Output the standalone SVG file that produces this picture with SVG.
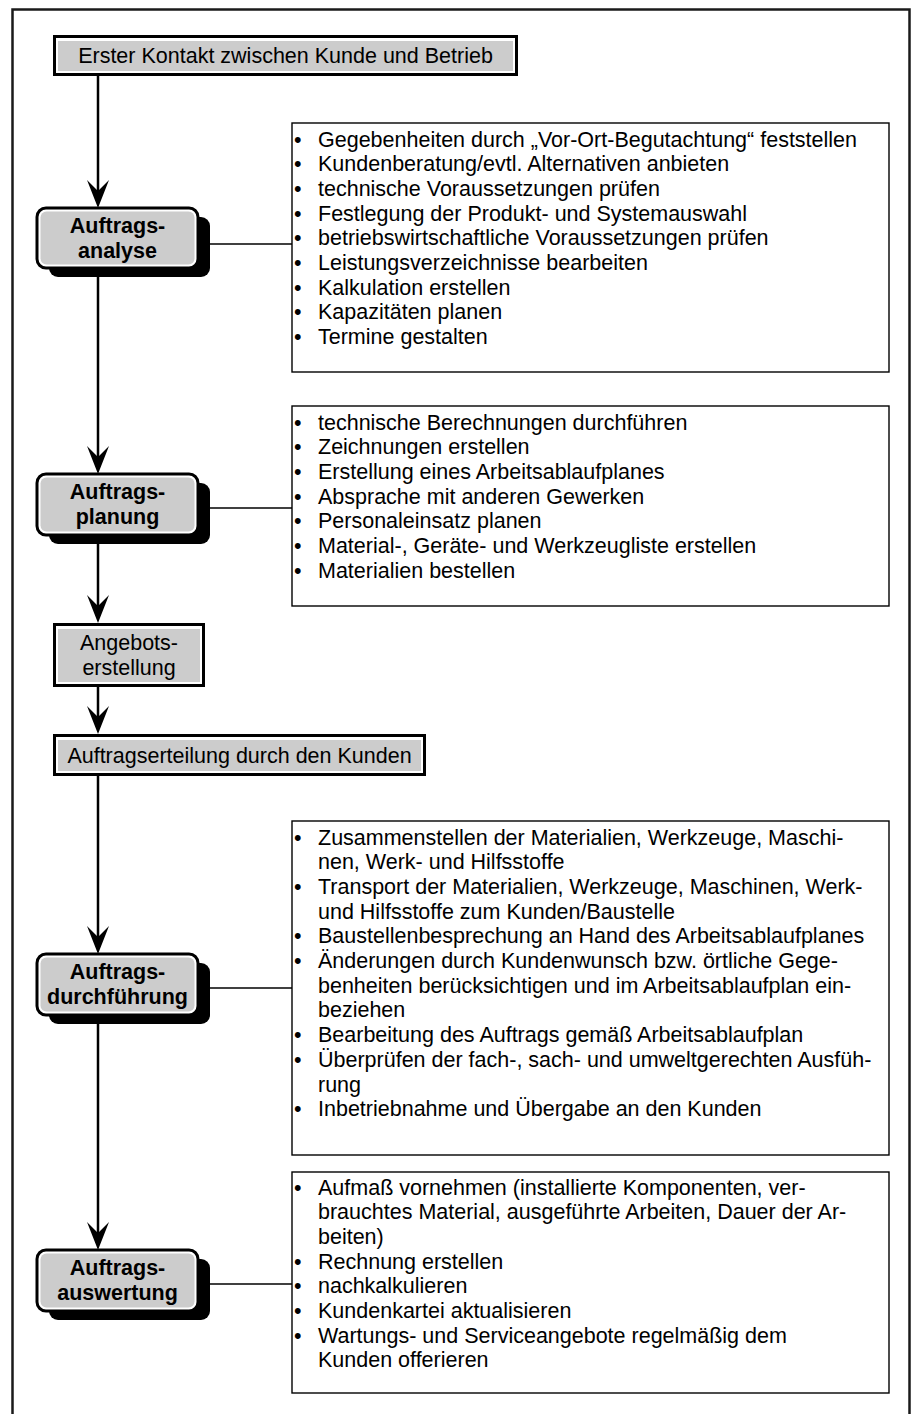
<svg xmlns="http://www.w3.org/2000/svg" width="914" height="1414" viewBox="0 0 914 1414">
<style>
.frame{fill:none;stroke:#1a1a1a;stroke-width:2.5}
.sbox{fill:#fff;stroke:#000;stroke-width:3}
.gin{fill:#cccccc}
.shadow{fill:#000}
.rbox{fill:#fff;stroke:#000;stroke-width:3}
.lbox{fill:#fff;stroke:#000;stroke-width:1.4}
.t{font-family:"Liberation Sans",Arial,sans-serif;font-size:21.5px;fill:#000}
.c{text-anchor:middle}
.b{font-weight:bold}
.flow{stroke:#000;stroke-width:2.5;fill:none}
.link{stroke:#000;stroke-width:1.5;fill:none}
</style>
<defs>
<marker id="ah" markerUnits="userSpaceOnUse" viewBox="0 0 28 22" refX="16" refY="11" markerWidth="28" markerHeight="22" orient="auto">
<path d="M28,11 L0,0 L11,11 L0,22 Z" fill="#000"/>
</marker>
</defs>
<rect class="frame" x="12.5" y="9.5" width="897" height="1430"/>

<g id="connectors">
<line class="flow" x1="98" y1="76" x2="98" y2="196" marker-end="url(#ah)"/>
<line class="flow" x1="98" y1="268" x2="98" y2="462" marker-end="url(#ah)"/>
<line class="flow" x1="98" y1="535" x2="98" y2="611" marker-end="url(#ah)"/>
<line class="flow" x1="98" y1="687" x2="98" y2="722" marker-end="url(#ah)"/>
<line class="flow" x1="98" y1="776" x2="98" y2="942" marker-end="url(#ah)"/>
<line class="flow" x1="98" y1="1015" x2="98" y2="1238" marker-end="url(#ah)"/>
<line class="link" x1="198" y1="244" x2="292" y2="244"/>
<line class="link" x1="198" y1="508" x2="292" y2="508"/>
<line class="link" x1="198" y1="988" x2="292" y2="988"/>
<line class="link" x1="198" y1="1284" x2="292" y2="1284"/>
</g>

<g id="erster-kontakt">
<rect class="sbox" x="54.5" y="36.5" width="462" height="38"/>
<rect class="gin" x="58" y="41" width="455" height="30"/>
<text class="t c" x="285.5" y="63">Erster Kontakt zwischen Kunde und Betrieb</text>
</g>

<g id="auftragsanalyse">
<rect class="shadow" x="49" y="217" width="161" height="60" rx="9"/>
<rect class="rbox" x="37" y="208" width="161" height="60" rx="9"/>
<rect class="gin" x="40.5" y="211.5" width="154" height="53" rx="6"/>
<text class="t c b" x="117.5" y="233">Auftrags-</text>
<text class="t c b" x="117.5" y="258">analyse</text>
</g>

<g id="analyse-liste">
<rect class="lbox" x="292" y="123" width="597" height="249"/>
<text class="t" x="294" y="146.5">•</text><text class="t" x="318" y="146.5">Gegebenheiten durch „Vor-Ort-Begutachtung“ feststellen</text>
<text class="t" x="294" y="171.2">•</text><text class="t" x="318" y="171.2">Kundenberatung/evtl. Alternativen anbieten</text>
<text class="t" x="294" y="195.9">•</text><text class="t" x="318" y="195.9">technische Voraussetzungen prüfen</text>
<text class="t" x="294" y="220.6">•</text><text class="t" x="318" y="220.6">Festlegung der Produkt- und Systemauswahl</text>
<text class="t" x="294" y="245.3">•</text><text class="t" x="318" y="245.3">betriebswirtschaftliche Voraussetzungen prüfen</text>
<text class="t" x="294" y="270">•</text><text class="t" x="318" y="270">Leistungsverzeichnisse bearbeiten</text>
<text class="t" x="294" y="294.7">•</text><text class="t" x="318" y="294.7">Kalkulation erstellen</text>
<text class="t" x="294" y="319.4">•</text><text class="t" x="318" y="319.4">Kapazitäten planen</text>
<text class="t" x="294" y="344.1">•</text><text class="t" x="318" y="344.1">Termine gestalten</text>
</g>

<g id="auftragsplanung">
<rect class="shadow" x="49" y="483" width="161" height="61" rx="9"/>
<rect class="rbox" x="37" y="474" width="161" height="61" rx="9"/>
<rect class="gin" x="40.5" y="477.5" width="154" height="54" rx="6"/>
<text class="t c b" x="117.5" y="499">Auftrags-</text>
<text class="t c b" x="117.5" y="524">planung</text>
</g>

<g id="planung-liste">
<rect class="lbox" x="292" y="406" width="597" height="200"/>
<text class="t" x="294" y="429.5">•</text><text class="t" x="318" y="429.5">technische Berechnungen durchführen</text>
<text class="t" x="294" y="454.2">•</text><text class="t" x="318" y="454.2">Zeichnungen erstellen</text>
<text class="t" x="294" y="478.9">•</text><text class="t" x="318" y="478.9">Erstellung eines Arbeitsablaufplanes</text>
<text class="t" x="294" y="503.6">•</text><text class="t" x="318" y="503.6">Absprache mit anderen Gewerken</text>
<text class="t" x="294" y="528.3">•</text><text class="t" x="318" y="528.3">Personaleinsatz planen</text>
<text class="t" x="294" y="553">•</text><text class="t" x="318" y="553">Material-, Geräte- und Werkzeugliste erstellen</text>
<text class="t" x="294" y="577.7">•</text><text class="t" x="318" y="577.7">Materialien bestellen</text>
</g>

<g id="angebotserstellung">
<rect class="sbox" x="54.5" y="624.5" width="149" height="61"/>
<rect class="gin" x="58" y="629" width="142" height="53"/>
<text class="t c" x="129" y="650">Angebots-</text>
<text class="t c" x="129" y="675">erstellung</text>
</g>

<g id="auftragserteilung">
<rect class="sbox" x="54.5" y="735.5" width="370" height="39"/>
<rect class="gin" x="58" y="740" width="363" height="31"/>
<text class="t c" x="239.5" y="763">Auftragserteilung durch den Kunden</text>
</g>

<g id="auftragsdurchfuehrung">
<rect class="shadow" x="49" y="963" width="161" height="61" rx="9"/>
<rect class="rbox" x="37" y="954" width="161" height="61" rx="9"/>
<rect class="gin" x="40.5" y="957.5" width="154" height="54" rx="6"/>
<text class="t c b" x="117.5" y="979">Auftrags-</text>
<text class="t c b" x="117.5" y="1004">durchführung</text>
</g>

<g id="durchfuehrung-liste">
<rect class="lbox" x="292" y="821" width="597" height="334"/>
<text class="t" x="294" y="844.5">•</text><text class="t" x="318" y="844.5">Zusammenstellen der Materialien, Werkzeuge, Maschi-</text>
<text class="t" x="318" y="869.2">nen, Werk- und Hilfsstoffe</text>
<text class="t" x="294" y="893.9">•</text><text class="t" x="318" y="893.9">Transport der Materialien, Werkzeuge, Maschinen, Werk-</text>
<text class="t" x="318" y="918.6">und Hilfsstoffe zum Kunden/Baustelle</text>
<text class="t" x="294" y="943.3">•</text><text class="t" x="318" y="943.3">Baustellenbesprechung an Hand des Arbeitsablaufplanes</text>
<text class="t" x="294" y="968">•</text><text class="t" x="318" y="968">Änderungen durch Kundenwunsch bzw. örtliche Gege-</text>
<text class="t" x="318" y="992.7">benheiten berücksichtigen und im Arbeitsablaufplan ein-</text>
<text class="t" x="318" y="1017.4">beziehen</text>
<text class="t" x="294" y="1042.1">•</text><text class="t" x="318" y="1042.1">Bearbeitung des Auftrags gemäß Arbeitsablaufplan</text>
<text class="t" x="294" y="1066.8">•</text><text class="t" x="318" y="1066.8">Überprüfen der fach-, sach- und umweltgerechten Ausfüh-</text>
<text class="t" x="318" y="1091.5">rung</text>
<text class="t" x="294" y="1116.2">•</text><text class="t" x="318" y="1116.2">Inbetriebnahme und Übergabe an den Kunden</text>
</g>

<g id="auftragsauswertung">
<rect class="shadow" x="49" y="1259" width="161" height="61" rx="9"/>
<rect class="rbox" x="37" y="1250" width="161" height="61" rx="9"/>
<rect class="gin" x="40.5" y="1253.5" width="154" height="54" rx="6"/>
<text class="t c b" x="117.5" y="1275">Auftrags-</text>
<text class="t c b" x="117.5" y="1300">auswertung</text>
</g>

<g id="auswertung-liste">
<rect class="lbox" x="292" y="1172" width="597" height="221"/>
<text class="t" x="294" y="1194.5">•</text><text class="t" x="318" y="1194.5">Aufmaß vornehmen (installierte Komponenten, ver-</text>
<text class="t" x="318" y="1219.2">brauchtes Material, ausgeführte Arbeiten, Dauer der Ar-</text>
<text class="t" x="318" y="1243.9">beiten)</text>
<text class="t" x="294" y="1268.6">•</text><text class="t" x="318" y="1268.6">Rechnung erstellen</text>
<text class="t" x="294" y="1293.3">•</text><text class="t" x="318" y="1293.3">nachkalkulieren</text>
<text class="t" x="294" y="1318">•</text><text class="t" x="318" y="1318">Kundenkartei aktualisieren</text>
<text class="t" x="294" y="1342.7">•</text><text class="t" x="318" y="1342.7">Wartungs- und Serviceangebote regelmäßig dem</text>
<text class="t" x="318" y="1367.4">Kunden offerieren</text>
</g>
</svg>
